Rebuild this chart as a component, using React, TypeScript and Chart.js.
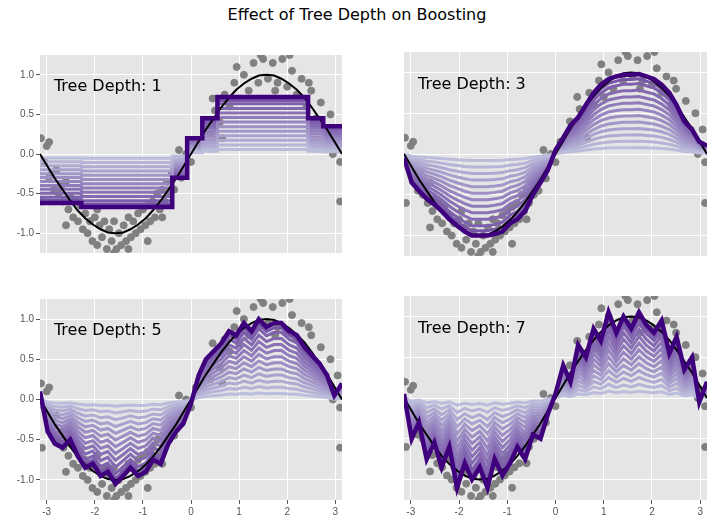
import { useEffect, useRef } from 'react'
import Chart from 'chart.js/auto';

const xGrid = [-3.14, -2.98, -2.83, -2.67, -2.51, -2.36, -2.2, -2.04, -1.88, -1.73, -1.57, -1.41, -1.26, -1.1, -0.94, -0.79, -0.63, -0.47, -0.31, -0.16, 0, 0.16, 0.31, 0.47, 0.63, 0.79, 0.94, 1.1, 1.26, 1.41, 1.57, 1.73, 1.88, 2.04, 2.2, 2.36, 2.51, 2.67, 2.83, 2.98, 3.14];
const sineVals = [0, -0.16, -0.31, -0.45, -0.59, -0.71, -0.81, -0.89, -0.95, -0.99, -1, -0.99, -0.95, -0.89, -0.81, -0.71, -0.59, -0.45, -0.31, -0.16, 0, 0.16, 0.31, 0.45, 0.59, 0.71, 0.81, 0.89, 0.95, 0.99, 1, 0.99, 0.95, 0.89, 0.81, 0.71, 0.59, 0.45, 0.31, 0.16, 0];

const depth1 = [-0.62, -0.62, -0.62, -0.62, -0.62, -0.62, -0.67, -0.67, -0.67, -0.67, -0.67, -0.67, -0.67, -0.67, -0.67, -0.67, -0.67, -0.67, -0.3, -0.3, 0.2, 0.2, 0.45, 0.45, 0.72, 0.72, 0.72, 0.72, 0.72, 0.72, 0.72, 0.72, 0.72, 0.72, 0.72, 0.72, 0.45, 0.45, 0.35, 0.35, 0.35];
const depth3 = [-0.05, -0.35, -0.45, -0.55, -0.62, -0.7, -0.8, -0.88, -0.95, -1.0, -1.0, -1.0, -0.98, -0.95, -0.85, -0.8, -0.7, -0.5, -0.35, -0.2, 0.05, 0.2, 0.35, 0.45, 0.6, 0.75, 0.85, 0.92, 0.95, 0.97, 0.97, 0.98, 0.95, 0.92, 0.85, 0.75, 0.6, 0.4, 0.3, 0.15, 0.1];
const depth5 = [0.1, -0.4, -0.55, -0.6, -0.5, -0.7, -0.85, -0.8, -0.95, -0.9, -1.05, -0.95, -0.85, -0.95, -0.9, -0.75, -0.8, -0.55, -0.4, -0.3, -0.05, 0.3, 0.5, 0.6, 0.7, 0.85, 0.8, 0.95, 0.85, 1.0, 0.9, 0.95, 0.95, 0.85, 0.8, 0.65, 0.55, 0.45, 0.3, 0.05, 0.2];
const depth7 = [0.05, -0.5, -0.3, -0.75, -0.55, -0.85, -0.6, -1.1, -0.8, -1.0, -0.85, -1.1, -0.75, -0.95, -0.8, -0.6, -0.75, -0.45, -0.5, -0.2, 0.05, 0.4, 0.2, 0.65, 0.5, 0.85, 0.7, 1.05, 0.8, 1.0, 0.85, 1.05, 0.9, 0.8, 0.95, 0.55, 0.75, 0.35, 0.5, -0.05, 0.2];

const stageFractions = [0.08, 0.16, 0.24, 0.32, 0.4, 0.48, 0.56, 0.64, 0.72, 0.8, 0.88, 0.94];
const depthLabels = ['Tree Depth: 1', 'Tree Depth: 3', 'Tree Depth: 5', 'Tree Depth: 7'];
const xTicks = [-3, -2, -1, 0, 1, 2, 3];
const yTicks = [-1, -0.5, 0, 0.5, 1];

const scatterPts = [
  [-3.12, 0.2], [-3.1, -0.6], [-3.05, -0.1], [-3.0, 0.1], [-2.95, -0.3], [-2.9, -0.25], [-2.85, -0.45], [-2.8, -0.2], [-2.75, -0.5], [-2.7, -0.4],
  [-2.65, -0.6], [-2.6, -0.35], [-2.55, -0.7], [-2.5, -0.55], [-2.45, -0.8], [-2.4, -0.6], [-2.35, -0.85], [-2.3, -0.65], [-2.25, -0.95], [-2.2, -0.75],
  [-2.15, -1.0], [-2.1, -0.85], [-2.05, -1.1], [-2.0, -0.8], [-1.95, -1.15], [-1.9, -0.9], [-1.85, -1.05], [-1.8, -0.85], [-1.75, -1.2], [-1.7, -0.95],
  [-1.65, -1.1], [-1.6, -0.85], [-1.55, -1.2], [-1.5, -1.0], [-1.45, -1.15], [-1.4, -0.9], [-1.35, -1.1], [-1.3, -0.8], [-1.25, -1.05], [-1.2, -0.85],
  [-1.15, -1.0], [-1.1, -0.75], [-1.05, -0.95], [-1.0, -0.7], [-0.95, -0.9], [-0.9, -0.65], [-0.85, -0.85], [-0.8, -0.6], [-0.75, -0.8], [-0.7, -0.5],
  [-0.65, -0.7], [-0.6, -0.45], [-0.55, -0.6], [-0.5, -0.35], [-0.45, -0.5], [-0.4, -0.25], [-0.35, -0.45], [-0.3, -0.2], [-0.2, -0.3], [-0.1, 0.0],
  [0, -0.1], [0.1, 0.15], [0.2, 0.1], [0.3, 0.4], [0.4, 0.25], [0.5, 0.55], [0.6, 0.4], [0.7, 0.75], [0.8, 0.6], [0.9, 0.9],
  [1.0, 0.7], [1.1, 1.0], [1.2, 0.8], [1.3, 1.15], [1.4, 0.9], [1.5, 1.2], [1.6, 0.95], [1.7, 1.15], [1.8, 0.9], [1.9, 1.2],
  [2.0, 0.85], [2.1, 1.05], [2.2, 0.75], [2.3, 0.95], [2.4, 0.6], [2.5, 0.8], [2.6, 0.45], [2.7, 0.65], [2.8, 0.3], [2.9, 0.5],
  [3.0, 0.1], [3.05, 0.3], [3.1, -0.1], [3.1, -0.6], [-2.6, -0.9], [-1.6, -1.25], [-0.9, -1.1], [1.45, 1.25], [2.05, 1.25], [0.65, 0.2],
  [-0.25, 0.05], [0.45, 0.7], [-1.95, -0.7], [-2.95, 0.15], [1.75, 0.8], [2.45, 0.9], [2.95, 0.0], [-1.3, -1.2], [0.95, 1.1], [-0.6, -0.8],
];

const LIGHT = [188, 189, 220];
const DARK = [63, 0, 125];
const mix = (t: number) => {
  const c = LIGHT.map((v, i) => Math.round(v + (DARK[i] - v) * t));
  return `rgb(${c[0]},${c[1]},${c[2]})`;
};

const panelBg = {
  id: 'panelBg',
  beforeDraw(chart: any) {
    const { ctx, chartArea: a } = chart;
    ctx.save();
    ctx.fillStyle = '#E5E5E5';
    ctx.fillRect(a.left, a.top, a.right - a.left, a.bottom - a.top);
    ctx.restore();
  },
};

const Panel = ({ idx, final, left, top }: { idx: number; final: number[]; left: boolean; top: boolean }) => {
  const ref = useRef<HTMLCanvasElement>(null);
  useEffect(() => {
    if (!ref.current) return;
    const label = depthLabels[idx];
    const stepped = idx === 0 ? 'middle' : false;
    const stages = stageFractions.map((f, i) => ({
      type: 'line' as const,
      data: xGrid.map((x, j) => ({ x, y: final[j] * f })),
      borderColor: mix(i / stageFractions.length * 0.6),
      borderWidth: 3,
      pointRadius: 0,
      stepped,
      order: 3,
    }));
    const myChart = new Chart(ref.current, {
      type: 'scatter',
      data: {
        datasets: [
          { type: 'scatter', data: scatterPts.map(p => ({ x: p[0], y: p[1] })), backgroundColor: '#808080', borderColor: '#808080', pointRadius: 3.5, order: 10 },
          { type: 'line', data: xGrid.map((x, j) => ({ x, y: sineVals[j] })), borderColor: '#000', borderWidth: 2, pointRadius: 0, order: 2 },
          ...stages,
          { type: 'line', data: xGrid.map((x, j) => ({ x, y: final[j] })), borderColor: mix(1), borderWidth: 4.5, pointRadius: 0, stepped, order: 0 },
        ] as any,
      },
      options: {
        animation: false,
        responsive: false,
        layout: { padding: 0 },
        plugins: { legend: { display: false }, tooltip: { enabled: false } },
        scales: {
          x: {
            type: 'linear', min: -3.14, max: 3.14,
            grid: { color: '#ffffff', lineWidth: 1, drawTicks: !top, tickColor: '#555', tickLength: 4 },
            border: { display: false },
            ticks: { display: !top, color: '#555', font: { size: 10 }, padding: 2 },
            afterBuildTicks: (s: any) => { s.ticks = xTicks.map(v => ({ value: v })); },
            afterFit: (s: any) => { s.height = top ? 0 : 20; },
          },
          y: {
            min: -1.25, max: 1.25,
            grid: { color: '#ffffff', lineWidth: 1, drawTicks: left, tickColor: '#555', tickLength: 4 },
            border: { display: false },
            ticks: { display: left, color: '#555', font: { size: 10 }, padding: 2, callback: (v: any) => Number(v).toFixed(1) },
            afterBuildTicks: (s: any) => { s.ticks = yTicks.map(v => ({ value: v })); },
            afterFit: (s: any) => { s.width = left ? 40 : 0; },
          },
        },
      },
      plugins: [panelBg, {
        id: 'lbl',
        afterDatasetsDraw(chart: any) {
          const { ctx, scales } = chart;
          ctx.save();
          ctx.font = '16px "DejaVu Sans"';
          ctx.fillStyle = '#000';
          ctx.textBaseline = 'middle';
          ctx.fillText(label, scales.x.getPixelForValue(-2.85), scales.y.getPixelForValue(0.85));
          ctx.restore();
        },
      }],
    } as any);
    return () => myChart.destroy();
  }, []);
  const w = left ? 347 : 313;
  const h = top ? 214 : 229;
  return <canvas ref={ref} width={w} height={h}
    style={{ position: 'absolute', left: left ? 0 : 399, top: top ? 47 : 291, width: w, height: h }} />;
};

const App = () => (
  <div style={{ position: 'absolute', left: 0, top: 0, width: 714, height: 524, background: '#fff', fontFamily: '"DejaVu Sans"' }}>
    <div style={{ position: 'absolute', top: 5, width: 714, textAlign: 'center', fontSize: 16 }}>Effect of Tree Depth on Boosting</div>
    <Panel idx={0} final={depth1} left top />
    <Panel idx={1} final={depth3} left={false} top />
    <Panel idx={2} final={depth5} left top={false} />
    <Panel idx={3} final={depth7} left={false} top={false} />
  </div>
);

export default App;
